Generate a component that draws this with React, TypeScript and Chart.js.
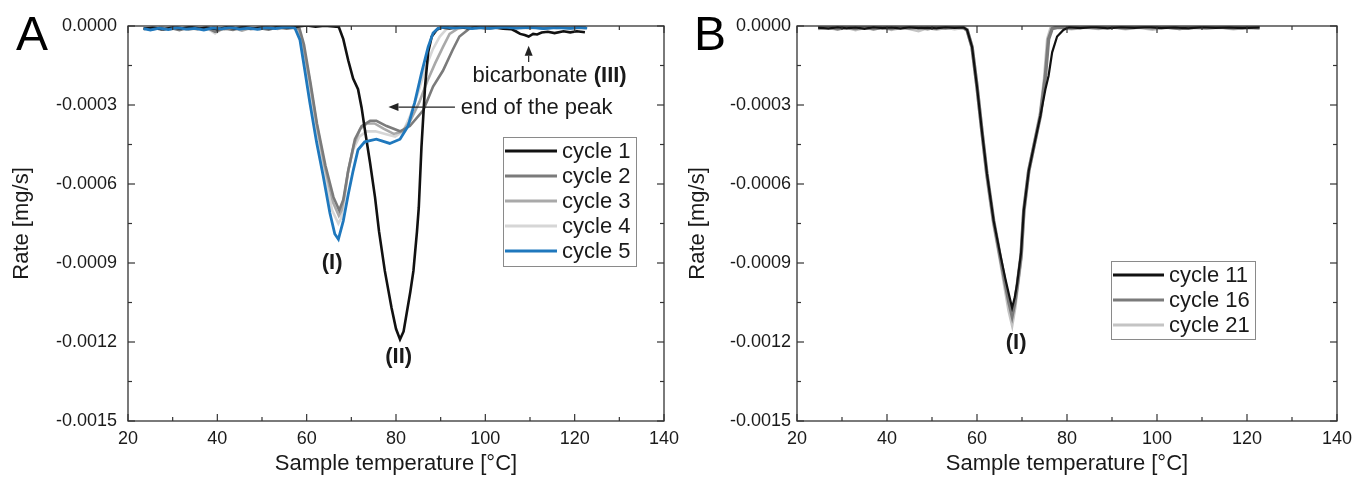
import React, { useEffect, useRef } from "react";
import { Chart, registerables } from "chart.js";

Chart.register(...registerables);

const FONT = '"Liberation Sans", Arial, Helvetica, sans-serif';
const TEXT = "#1a1a1a";

// ---------- axis settings ----------
const xMin = 20;
const xMax = 140;
const xStep = 20;
const yMin = -0.0015;
const yMax = 0;
const yStep = 0.0003;
const xTitle = "Sample temperature [°C]";
const yTitle = "Rate [mg/s]";

// ---------- Panel A data: [temperature °C, rate mg/s] ----------
const cycle1: [number, number][] = [
  [23.5, -0.00001], [26, -0.000008], [28, -0.000012], [30, -0.000006], [32, -0.00001],
  [34, -0.000004], [36, -0.00001], [38, -0.000007], [40, -0.000012], [42, -0.000005],
  [44, -0.000009], [46, -0.000004], [48, -0.00001], [50, -0.000006], [52, -0.000008],
  [54, -0.000003], [56, -0.000006], [58, -0.000002], [60, 0.000002], [62, -0.000003],
  [64, 0.000001], [66, -0.000002], [67.2, -0.000004], [68.2, -0.00005], [69.3, -0.00013],
  [70.4, -0.0002], [71.5, -0.00024], [72.3, -0.00031], [73, -0.00039], [74.2, -0.00052],
  [75.3, -0.00065], [76.2, -0.00078], [77.5, -0.00093], [79, -0.00107], [80, -0.00115],
  [80.9, -0.00119], [81.7, -0.00116], [82.4, -0.00109], [83.2, -0.00101], [83.9, -0.00093],
  [84.7, -0.00078], [85.1, -0.00069], [85.7, -0.00046], [86.5, -0.00023], [87.2, -0.0001],
  [88, -0.00004], [89.1, -0.000015], [90, -0.000006], [92, -0.000009], [94, -0.000004],
  [96, -0.000008], [98, -0.000005], [100, -0.000008], [102, -0.000006], [104, -0.00001],
  [105.8, -0.000012], [106.8, -0.00002], [107.8, -0.00003], [108.8, -0.000034], [109.7, -0.00004],
  [110.7, -0.00003], [111.6, -0.000032], [112.6, -0.000025], [114, -0.000022], [115.5, -0.000027],
  [117.5, -0.00002], [119, -0.000024], [120.5, -0.00002], [122.3, -0.000024],
];

const cycle2: [number, number][] = [
  [23.5, -0.000012], [25.5, -0.000006], [27.5, -0.000014], [29.5, -0.000008], [31.5, -0.000016],
  [33.5, -0.000007], [35.5, -0.000012], [37.5, -0.000005], [39.5, -0.000022], [41.5, -0.000009],
  [43.5, -0.000015], [45.5, -0.000006], [47.5, -0.000011], [49.5, -0.000008], [51.5, -0.000014],
  [53.5, -0.000005], [55.5, -0.00001], [57.5, -0.000006], [58.4, -0.00001], [59.4, -0.00007],
  [60.9, -0.00022], [62.3, -0.00037], [64.2, -0.00053], [66, -0.00065], [67.3, -0.0007],
  [68.2, -0.00066], [69.3, -0.00055], [70.8, -0.00043], [72.3, -0.00038], [74.2, -0.00036],
  [75.6, -0.00036], [77.9, -0.00038], [80.9, -0.0004], [83.1, -0.00038], [86.1, -0.00032],
  [88.3, -0.00023], [90.5, -0.00017], [92.7, -0.00009], [94.2, -0.00004], [96.4, -0.00001],
  [98.5, -0.000004], [101, -0.000008], [104, -0.000003], [107, -0.000007], [110, -0.000004],
  [113, -0.000009], [116, -0.000005], [119, -0.000008], [122.5, -0.000006],
];

const cycle3: [number, number][] = [
  [23.5, -0.000008], [25.5, -0.000013], [27.5, -0.000006], [29.5, -0.000012], [31.5, -0.000007],
  [33.5, -0.000014], [35.5, -0.000008], [37.5, -0.000012], [39.5, -0.000006], [41.5, -0.000013],
  [43.5, -0.000007], [45.5, -0.000018], [47.5, -0.000008], [49.5, -0.000012], [51.5, -0.000006],
  [53.5, -0.000011], [55.5, -0.000005], [57.5, -0.000008], [58.2, -0.00001], [59.2, -0.00007],
  [60.6, -0.0002], [62.2, -0.00037], [64, -0.00053], [65.9, -0.00067], [67.2, -0.00072],
  [67.8, -0.0007], [68.5, -0.00064], [69.3, -0.00055], [70.6, -0.00045], [72, -0.00039],
  [73.5, -0.00037], [75.2, -0.00037], [77.2, -0.00039], [79.5, -0.00041], [81.5, -0.0004],
  [83.2, -0.00036], [85.2, -0.00029], [87, -0.00021], [88.8, -0.00014], [90.5, -0.00008],
  [92, -0.00003], [93.8, -0.00001], [95.5, -0.000005], [98, -0.000008], [101, -0.000004],
  [104, -0.000007], [107, -0.000005], [110, -0.000008], [113, -0.000004], [116, -0.000007],
  [119, -0.000005], [122.5, -0.000008],
];

const cycle4: [number, number][] = [
  [23.5, -0.00001], [25.5, -0.000005], [27.5, -0.000011], [29.5, -0.000006], [31.5, -0.000012],
  [33.5, -0.000005], [35.5, -0.00001], [37.5, -0.000006], [39.5, -0.000028], [41.5, -0.000007],
  [43.5, -0.000011], [45.5, -0.000005], [47.5, -0.000013], [49.5, -0.000006], [51.5, -0.00001],
  [53.5, -0.000004], [55.5, -0.000009], [57.5, -0.000005], [58, -0.00001], [59, -0.00008],
  [60.5, -0.00022], [62.1, -0.00039], [63.9, -0.00056], [65.7, -0.0007], [67.1, -0.00075],
  [67.7, -0.00073], [68.4, -0.00066], [69.2, -0.00056], [70.4, -0.00047], [71.8, -0.00042],
  [73.4, -0.0004], [75.4, -0.0004], [77.6, -0.00041], [79.8, -0.00042], [81.6, -0.0004],
  [83.2, -0.00034], [85, -0.00025], [86.6, -0.00016], [88.2, -0.00009], [89.8, -0.00004],
  [91.3, -0.000012], [93, -0.000005], [96, -0.000008], [99, -0.000004], [102, -0.000007],
  [105, -0.000004], [108, -0.000008], [111, -0.000005], [114, -0.000007], [117, -0.000004],
  [120, -0.000007], [122.5, -0.000005],
];

const cycle5: [number, number][] = [
  [23.5, -0.00001], [25, -0.000015], [27, -0.000008], [29, -0.000014], [31, -0.000006],
  [33, -0.000012], [35, -0.000009], [37, -0.000015], [39, -0.000007], [41, -0.000011],
  [43, -0.000005], [45, -0.000012], [47, -0.000008], [49, -0.000013], [51, -0.000006],
  [53, -0.00001], [55, -0.000004], [57, -0.000006], [57.4, -0.000009], [58.5, -0.000053],
  [59.6, -0.00017], [60.7, -0.00029], [62.2, -0.00044], [63.7, -0.00057], [65.2, -0.00071],
  [66.3, -0.00079], [67.1, -0.00081], [68.2, -0.00074], [69.3, -0.00064], [70.4, -0.00055],
  [71.5, -0.00047], [73, -0.00044], [75.6, -0.00043], [78.6, -0.000446], [80.9, -0.00043],
  [82.7, -0.00038], [84.2, -0.00029], [85.7, -0.00018], [87.2, -0.000079], [88.3, -0.000027],
  [89.4, -0.000009], [91, -0.000004], [93, -0.000008], [95, -0.000004], [97, -0.00001],
  [99, -0.000006], [101, -0.000009], [104, -0.000004], [107, -0.000008], [110, -0.000005],
  [113, -0.00001], [116, -0.000006], [119, -0.000009], [121, -0.000005], [122.8, -0.000008],
];

// ---------- Panel B data ----------
const cycle11: [number, number][] = [
  [24.7, -0.000006], [27, -0.00001], [29, -0.000004], [31, -0.000009], [33, -0.000005],
  [35, -0.000011], [37, -0.000004], [39, -0.000008], [41, -0.000005], [43, -0.00001],
  [45, -0.000004], [47, -0.000008], [49, -0.000006], [51, -0.000009], [53, -0.000004],
  [55, -0.000007], [57, -0.000005], [57.8, -0.000015], [58.9, -0.00008], [60, -0.00023],
  [61.1, -0.0004], [62.2, -0.00056], [63.7, -0.00074], [65.2, -0.00087], [66.3, -0.00096],
  [67.1, -0.00102], [67.8, -0.00107], [68.4, -0.00103], [68.9, -0.00098], [69.8, -0.00086],
  [70.4, -0.0007], [71.5, -0.00055], [72.6, -0.00046], [74.1, -0.00034], [75.2, -0.00024],
  [75.9, -0.00019], [76.7, -0.0001], [77.8, -0.00004], [79.2, -0.000015], [80.5, -0.000004],
  [83, -0.000008], [86, -0.000003], [89, -0.000009], [92, -0.000004], [95, -0.000007],
  [98, -0.000003], [101, -0.000008], [104, -0.000005], [107, -0.000009], [110, -0.000004],
  [113, -0.000007], [116, -0.000005], [119, -0.000008], [122.8, -0.000005],
];

const cycle16: [number, number][] = [
  [24.7, -0.000008], [27, -0.000004], [29, -0.00001], [31, -0.000005], [33, -0.000009],
  [35, -0.000004], [37, -0.00001], [39, -0.000006], [41, -0.000009], [43, -0.000004],
  [45, -0.000008], [47, -0.000005], [49, -0.00001], [51, -0.000005], [53, -0.000008],
  [55, -0.000004], [57, -0.000007], [57.8, -0.000015], [58.9, -0.00008], [60, -0.00023],
  [61.1, -0.0004], [62.2, -0.00056], [63.7, -0.00074], [65.2, -0.00088], [66.3, -0.00098],
  [67.1, -0.00105], [67.8, -0.0011], [68.4, -0.00105], [68.9, -0.00099], [69.8, -0.00087],
  [70.4, -0.0007], [71.5, -0.00055], [72.6, -0.00046], [74.1, -0.00034], [75.2, -0.00019],
  [75.9, -0.00005], [76.7, -0.00001], [78, -0.000004], [81, -0.000008], [84, -0.000004],
  [87, -0.000007], [90, -0.000003], [93, -0.000008], [96, -0.000004], [99, -0.000007],
  [102, -0.000004], [105, -0.000009], [108, -0.000005], [111, -0.000007], [114, -0.000004],
  [117, -0.000008], [120, -0.000005], [122.8, -0.000007],
];

const cycle21: [number, number][] = [
  [24.7, -0.00001], [27, -0.000006], [29, -0.000012], [31, -0.000005], [33, -0.000014],
  [35, -0.000006], [37, -0.000011], [39, -0.000005], [41, -0.000013], [43, -0.000006],
  [45, -0.00001], [47, -0.000018], [49, -0.000006], [51, -0.000012], [53, -0.000005],
  [55, -0.00001], [57, -0.000006], [57.8, -0.000015], [58.9, -0.00008], [60, -0.00023],
  [61.1, -0.0004], [62.2, -0.00057], [63.7, -0.00075], [65.2, -0.00089], [66.3, -0.001],
  [67.1, -0.00108], [67.8, -0.00113], [68.4, -0.00107], [68.9, -0.001], [69.8, -0.00088],
  [70.4, -0.00071], [71.5, -0.00055], [72.6, -0.00046], [74.1, -0.00033], [75, -0.0002],
  [75.7, -0.00005], [76.4, -0.00001], [78, -0.000006], [81, -0.00001], [84, -0.000005],
  [87, -0.000009], [90, -0.000004], [93, -0.00001], [96, -0.000005], [99, -0.000012],
  [102, -0.000005], [105, -0.000009], [108, -0.000004], [111, -0.000008], [114, -0.000005],
  [117, -0.00001], [120, -0.000005], [122.8, -0.000008],
];

// ---------- series definitions ----------
type Series = { label: string; points: [number, number][]; color: string; width: number; order: number };

const seriesA: Series[] = [
  { label: "cycle 1", points: cycle1, color: "#111111", width: 2.6, order: 1 },
  { label: "cycle 2", points: cycle2, color: "#7b7b7b", width: 2.6, order: 2 },
  { label: "cycle 3", points: cycle3, color: "#a9a9a9", width: 2.6, order: 3 },
  { label: "cycle 4", points: cycle4, color: "#d6d6d6", width: 2.6, order: 4 },
  { label: "cycle 5", points: cycle5, color: "#1f78bd", width: 2.8, order: 0 },
];

const seriesB: Series[] = [
  { label: "cycle 11", points: cycle11, color: "#111111", width: 2.2, order: 0 },
  { label: "cycle 16", points: cycle16, color: "#7b7b7b", width: 3.5, order: 1 },
  { label: "cycle 21", points: cycle21, color: "#c4c4c4", width: 3.5, order: 2 },
];

// ---------- annotations (data coordinates) ----------
type Note = { parts: { text: string; bold: boolean }[]; x: number; y: number; align: "center" | "left" };
type Arrow = { x1: number; y1: number; x2: number; y2: number };

const notesA: Note[] = [
  { parts: [{ text: "(I)", bold: true }], x: 65.7, y: -0.0009, align: "center" },
  { parts: [{ text: "(II)", bold: true }], x: 80.6, y: -0.001256, align: "center" },
  { parts: [{ text: "bicarbonate ", bold: false }, { text: "(III)", bold: true }], x: 114.4, y: -0.00019, align: "center" },
  { parts: [{ text: "end of the peak", bold: false }], x: 94.5, y: -0.000312, align: "left" },
];
const arrowsA: Arrow[] = [
  { x1: 109.7, y1: -0.000137, x2: 109.7, y2: -0.000075 },
  { x1: 93.2, y1: -0.000308, x2: 78.3, y2: -0.000308 },
];
const notesB: Note[] = [
  { parts: [{ text: "(I)", bold: true }], x: 68.7, y: -0.001204, align: "center" },
];

type PanelCfg = {
  letter: string;
  letterX: number;
  series: Series[];
  notes: Note[];
  arrows: Arrow[];
  legend: { x: number; y: number; w: number; h: number; lineLen: number };
  canvasW: number;
  yScaleW: number;
  padRight: number;
  yTickPad: number;
};

function makeDecor(cfg: PanelCfg) {
  return {
    id: "decor",
    afterDraw(chart: any) {
      const ctx: CanvasRenderingContext2D = chart.ctx;
      const xs = chart.scales.x;
      const ys = chart.scales.y;
      const { left, right, top, bottom } = chart.chartArea;
      ctx.save();
      // frame
      ctx.strokeStyle = "#333333";
      ctx.lineWidth = 1.3;
      ctx.strokeRect(left, top, right - left, bottom - top);
      const line = (x1: number, y1: number, x2: number, y2: number) => {
        ctx.beginPath();
        ctx.moveTo(x1, y1);
        ctx.lineTo(x2, y2);
        ctx.stroke();
      };
      ctx.lineWidth = 1.2;
      const xv: number[] = xs.ticks.map((t: any) => t.value);
      const yv: number[] = ys.ticks.map((t: any) => t.value);
      const maj = 7;
      const mn = 4;
      xv.forEach((v, i) => {
        const p = xs.getPixelForValue(v);
        line(p, bottom, p, bottom - maj);
        line(p, top, p, top + maj);
        if (i < xv.length - 1) {
          const q = xs.getPixelForValue((v + xv[i + 1]) / 2);
          line(q, bottom, q, bottom - mn);
          line(q, top, q, top + mn);
        }
      });
      yv.forEach((v, i) => {
        const p = ys.getPixelForValue(v);
        line(left, p, left + maj, p);
        line(right, p, right - maj, p);
        if (i < yv.length - 1) {
          const q = ys.getPixelForValue((v + yv[i + 1]) / 2);
          line(left, q, left + mn, q);
          line(right, q, right - mn, q);
        }
      });

      // legend
      const lg = cfg.legend;
      ctx.fillStyle = "#ffffff";
      ctx.fillRect(lg.x, lg.y, lg.w, lg.h);
      ctx.strokeStyle = "#8a8a8a";
      ctx.lineWidth = 1;
      ctx.strokeRect(lg.x + 0.5, lg.y + 0.5, lg.w, lg.h);
      ctx.font = `22px ${FONT}`;
      ctx.textBaseline = "middle";
      ctx.textAlign = "left";
      cfg.series.forEach((s, i) => {
        const ry = lg.y + 14 + i * 25;
        ctx.strokeStyle = s.color;
        ctx.lineWidth = 3;
        line(lg.x + 2, ry, lg.x + 2 + lg.lineLen, ry);
        ctx.fillStyle = TEXT;
        ctx.fillText(s.label, lg.x + lg.lineLen + 7, ry + 1);
      });

      // annotations
      ctx.fillStyle = TEXT;
      ctx.textBaseline = "middle";
      cfg.notes.forEach((n) => {
        const widths = n.parts.map((p) => {
          ctx.font = `${p.bold ? "bold " : ""}22px ${FONT}`;
          return ctx.measureText(p.text).width;
        });
        const total = widths.reduce((a, b) => a + b, 0);
        const px = xs.getPixelForValue(n.x);
        const py = ys.getPixelForValue(n.y);
        let cx = n.align === "center" ? px - total / 2 : px;
        n.parts.forEach((p, i) => {
          ctx.font = `${p.bold ? "bold " : ""}22px ${FONT}`;
          ctx.textAlign = "left";
          ctx.fillText(p.text, cx, py);
          cx += widths[i];
        });
      });
      ctx.strokeStyle = "#222222";
      ctx.fillStyle = "#222222";
      ctx.lineWidth = 1.2;
      cfg.arrows.forEach((a) => {
        const x1 = xs.getPixelForValue(a.x1);
        const y1 = ys.getPixelForValue(a.y1);
        const x2 = xs.getPixelForValue(a.x2);
        const y2 = ys.getPixelForValue(a.y2);
        const ang = Math.atan2(y2 - y1, x2 - x1);
        const hl = 10;
        const hw = 4;
        const bx = x2 - hl * Math.cos(ang);
        const by = y2 - hl * Math.sin(ang);
        line(x1, y1, bx, by);
        ctx.beginPath();
        ctx.moveTo(x2, y2);
        ctx.lineTo(bx + hw * Math.sin(ang), by - hw * Math.cos(ang));
        ctx.lineTo(bx - hw * Math.sin(ang), by + hw * Math.cos(ang));
        ctx.closePath();
        ctx.fill();
      });

      // panel letter
      ctx.fillStyle = "#000000";
      ctx.font = `48px ${FONT}`;
      ctx.textAlign = "center";
      ctx.textBaseline = "alphabetic";
      ctx.fillText(cfg.letter, cfg.letterX, 50);
      ctx.restore();
    },
  };
}

const fmt = (v: number) => (Math.abs(v) < 1e-9 ? "0.0000" : Number(v).toFixed(4));

function Panel({ cfg, left }: { cfg: PanelCfg; left: number }) {
  const ref = useRef<HTMLCanvasElement | null>(null);
  useEffect(() => {
    if (!ref.current) return;
    const chart = new Chart(ref.current, {
      type: "line",
      data: {
        datasets: cfg.series.map((s) => ({
          label: s.label,
          data: s.points.map(([x, y]) => ({ x, y })),
          borderColor: s.color,
          backgroundColor: s.color,
          borderWidth: s.width,
          pointRadius: 0,
          tension: 0,
          fill: false,
          order: s.order,
        })),
      },
      options: {
        animation: false,
        responsive: false,
        maintainAspectRatio: false,
        events: [],
        layout: { padding: { left: 0, right: cfg.padRight, top: 26, bottom: 0 } },
        plugins: { legend: { display: false }, tooltip: { enabled: false } },
        scales: {
          x: {
            type: "linear",
            min: xMin,
            max: xMax,
            grid: { display: false, drawTicks: false },
            border: { display: false },
            ticks: {
              stepSize: xStep,
              autoSkip: false,
              maxRotation: 0,
              padding: 7,
              color: TEXT,
              font: { family: FONT, size: 18 },
            },
            title: {
              display: true,
              text: xTitle,
              color: TEXT,
              font: { family: FONT, size: 22 },
              padding: { top: 0, bottom: 3 },
            },
            afterFit: (s: any) => {
              s.height = 59;
              s.paddingLeft = 0;
              s.paddingRight = 0;
            },
          },
          y: {
            type: "linear",
            min: yMin,
            max: yMax,
            grid: { display: false, drawTicks: false },
            border: { display: false },
            ticks: {
              stepSize: yStep,
              padding: cfg.yTickPad,
              color: TEXT,
              font: { family: FONT, size: 18 },
              callback: (v: any) => fmt(Number(v)),
            },
            title: {
              display: true,
              text: yTitle,
              color: TEXT,
              font: { family: FONT, size: 22 },
              padding: { top: 9, bottom: 0 },
            },
            afterFit: (s: any) => {
              s.width = cfg.yScaleW;
              s.paddingTop = 0;
              s.paddingBottom = 0;
            },
          },
        },
      },
      plugins: [makeDecor(cfg)],
    } as any);
    return () => chart.destroy();
  }, [cfg]);
  return (
    <canvas
      ref={ref}
      width={cfg.canvasW}
      height={480}
      style={{ position: "absolute", left, top: 0, width: cfg.canvasW, height: 480, display: "block" }}
    />
  );
}

const panelA: PanelCfg = {
  letter: "A",
  letterX: 32,
  series: seriesA,
  notes: notesA,
  arrows: arrowsA,
  legend: { x: 503, y: 137, w: 133, h: 129, lineLen: 52 },
  canvasW: 700,
  yScaleW: 128,
  padRight: 36,
  yTickPad: 11,
};

const panelB: PanelCfg = {
  letter: "B",
  letterX: 34,
  series: seriesB,
  notes: notesB,
  arrows: [],
  legend: { x: 435, y: 261, w: 144, h: 78, lineLen: 51 },
  canvasW: 676,
  yScaleW: 121,
  padRight: 15,
  yTickPad: 6,
};

export default function App() {
  return (
    <div style={{ position: "fixed", left: 0, top: 0, width: 1352, height: 480, background: "#ffffff", overflow: "hidden" }}>
      <Panel cfg={panelA} left={0} />
      <Panel cfg={panelB} left={676} />
    </div>
  );
}
